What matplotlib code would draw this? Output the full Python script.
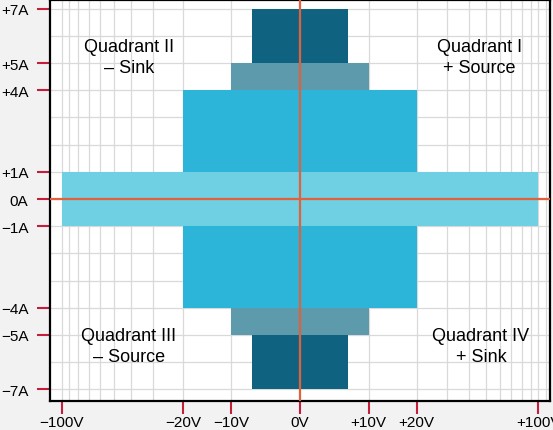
import numpy as np
import matplotlib
matplotlib.use("Agg")
import matplotlib.pyplot as plt

# SMU operating envelope: current limit (A) vs voltage limit (V), largest first
current_limits = [7, 5, 4, 1]
voltage_limits = [7, 10, 20, 100]
box_colors = ["#0f6381", "#5c9aac", "#2db4d9", "#6fcfe3"]

x_ticks = [-100, -20, -10, 0, 10, 20, 100]
x_labels = ["\u2212100V", "\u221220V", "\u221210V", "0V", "+10V", "+20V", "+100V"]
y_ticks = [-7, -5, -4, -1, 0, 1, 4, 5, 7]
y_labels = ["\u22127A", "\u22125A", "\u22124A", "\u22121A", "0A", "+1A", "+4A", "+5A", "+7A"]

x_grid = [-100, -90, -80, -70, -60, -50, -40, -30, -20, -10,
          10, 20, 30, 40, 50, 60, 70, 80, 90, 100, 110]
y_grid = list(range(-7, 8))

quadrants = [
    ("Quadrant II\n\u2013 Sink", 0.158, 0.857),
    ("Quadrant I\n+ Source", 0.859, 0.857),
    ("Quadrant III\n\u2013 Source", 0.158, 0.138),
    ("Quadrant IV\n+ Sink", 0.862, 0.138),
]

orange = "#e2613b"
tick_red = "#c41e3a"


# voltage axis: linear near zero, logarithmic beyond 20 V
def fwd(x):
    x = np.asarray(x, float)
    a = np.abs(x)
    lin = np.interp(a, [0, 10, 20], [0, 68.5, 116.5])
    lg = 116.5 + 174.5 * np.log10(np.maximum(a, 20) / 20)
    return np.sign(x) * np.where(a <= 20, lin, lg)


def inv(y):
    y = np.asarray(y, float)
    a = np.abs(y)
    lin = np.interp(a, [0, 68.5, 116.5], [0, 10, 20])
    lg = 20 * 10 ** ((np.maximum(a, 116.5) - 116.5) / 174.5)
    return np.sign(y) * np.where(a <= 116.5, lin, lg)


plt.rcParams["font.family"] = ["Liberation Sans", "DejaVu Sans"]

fig = plt.figure(figsize=(5.53, 4.31), dpi=100, facecolor="#f2f2f2")
ax = fig.add_axes([50 / 553, 29 / 431, 500 / 553, 401 / 431])
ax.set_facecolor("white")
ax.set_xscale("function", functions=(fwd, inv))
ax.set_xlim(-116.4, 116.4)
ax.set_ylim(-7.43, 7.32)

for xg in x_grid:
    ax.axvline(xg, color="#d9d9d9", lw=0.9, zorder=0)
for yg in y_grid:
    ax.axhline(yg, color="#d9d9d9", lw=0.9, zorder=0)

for i, (amp, volt, col) in enumerate(zip(current_limits, voltage_limits, box_colors)):
    ax.bar(0, 2 * amp, width=2 * volt, bottom=-amp, color=col, zorder=2 + i)

ax.axvline(0, color=orange, lw=1.6, zorder=10)
ax.axhline(0, color=orange, lw=1.6, zorder=10)

for txt, qx, qy in quadrants:
    ax.text(qx, qy, txt, transform=ax.transAxes, ha="center", va="center",
            fontsize=13, linespacing=1.3, zorder=11)

ax.set_xticks(x_ticks)
ax.set_xticklabels(x_labels)
ax.set_yticks(y_ticks)
ax.set_yticklabels(y_labels)
ax.minorticks_off()
ax.tick_params(axis="both", length=9.5, width=1.5, color=tick_red, labelsize=11)
ax.tick_params(axis="x", pad=0.5)
ax.tick_params(axis="y", pad=6)

for t in ax.xaxis.get_major_ticks() + ax.yaxis.get_major_ticks():
    if t.get_loc() == 0:
        t.tick1line.set_color(orange)

for s in ax.spines.values():
    s.set_color("black")
    s.set_linewidth(1.6)

fig.savefig("out.png", dpi=100, facecolor=fig.get_facecolor())
